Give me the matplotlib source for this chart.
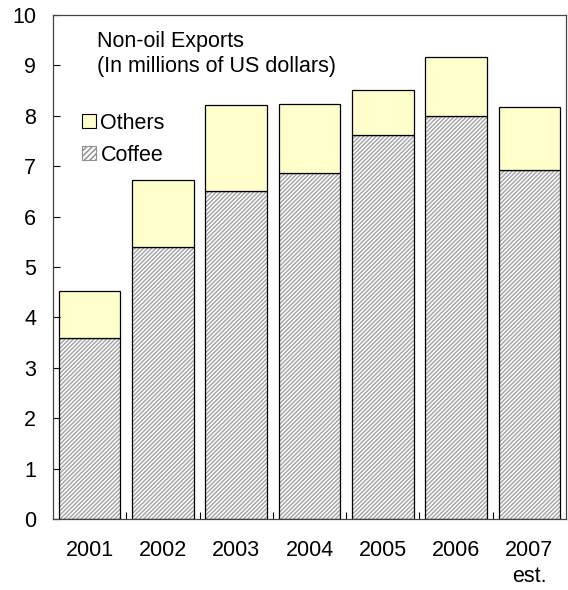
import numpy as np
import matplotlib
matplotlib.use('Agg')
from matplotlib import pyplot as plt
from matplotlib.patches import Patch

# data (millions of US dollars)
years = ['2001', '2002', '2003', '2004', '2005', '2006', '2007\nest.']
coffee = [3.6, 5.4, 6.5, 6.87, 7.62, 8.0, 6.92]
totals = [4.52, 6.73, 8.21, 8.23, 8.52, 9.17, 8.18]
others = [t - c for t, c in zip(totals, coffee)]

plt.rcParams['font.family'] = ['Liberation Sans', 'DejaVu Sans']
plt.rcParams['hatch.linewidth'] = 1.1

fig = plt.figure(figsize=(5.68, 5.90), dpi=100)
ax = fig.add_axes([0.0933, 0.1203, 0.9032, 0.8543])

x = np.arange(len(years))
w = 0.84
# coffee: grey diagonal hatch, then black outline on top
ax.bar(x, coffee, w, color='white', edgecolor='#a8a8a8', hatch='////////', linewidth=0)
ax.bar(x, coffee, w, color='none', edgecolor='black', linewidth=0.9)
ax.bar(x, others, w, bottom=coffee, color='#ffffcc', edgecolor='black', linewidth=0.9)

ax.set_xlim(-0.5, len(years) - 0.5)
ax.set_ylim(0, 10)
ax.set_yticks(range(0, 11))
ax.set_xticks(x)
ax.set_xticklabels(years, multialignment='center', linespacing=1.3)
ax.set_xticks(x[:-1] + 0.5, minor=True)
ax.tick_params(axis='y', direction='in', length=5, width=0.8, pad=12, labelsize=15.5, colors='black')
ax.tick_params(axis='x', which='major', length=0, pad=15, labelsize=15.5)
ax.tick_params(axis='x', which='minor', direction='in', length=5, width=0.8)
for s in ax.spines.values():
    s.set_color('#444444')
    s.set_linewidth(0.9)

ax.text(0.085, 0.968, 'Non-oil Exports\n(In millions of US dollars)', transform=ax.transAxes,
        fontsize=15.5, va='top', ha='left', linespacing=1.25)

handles = [Patch(facecolor='#ffffcc', edgecolor='black', linewidth=0.8, label='Others'),
           Patch(facecolor='white', edgecolor='#909090', hatch='//////', linewidth=0.8, label='Coffee')]
ax.legend(handles=handles, loc='upper left', bbox_to_anchor=(0.04, 0.823), frameon=False,
          fontsize=15.5, handlelength=0.65, handleheight=0.65, handletextpad=0.2,
          labelspacing=0.5, borderaxespad=0)

fig.savefig('out.png', dpi=100)
